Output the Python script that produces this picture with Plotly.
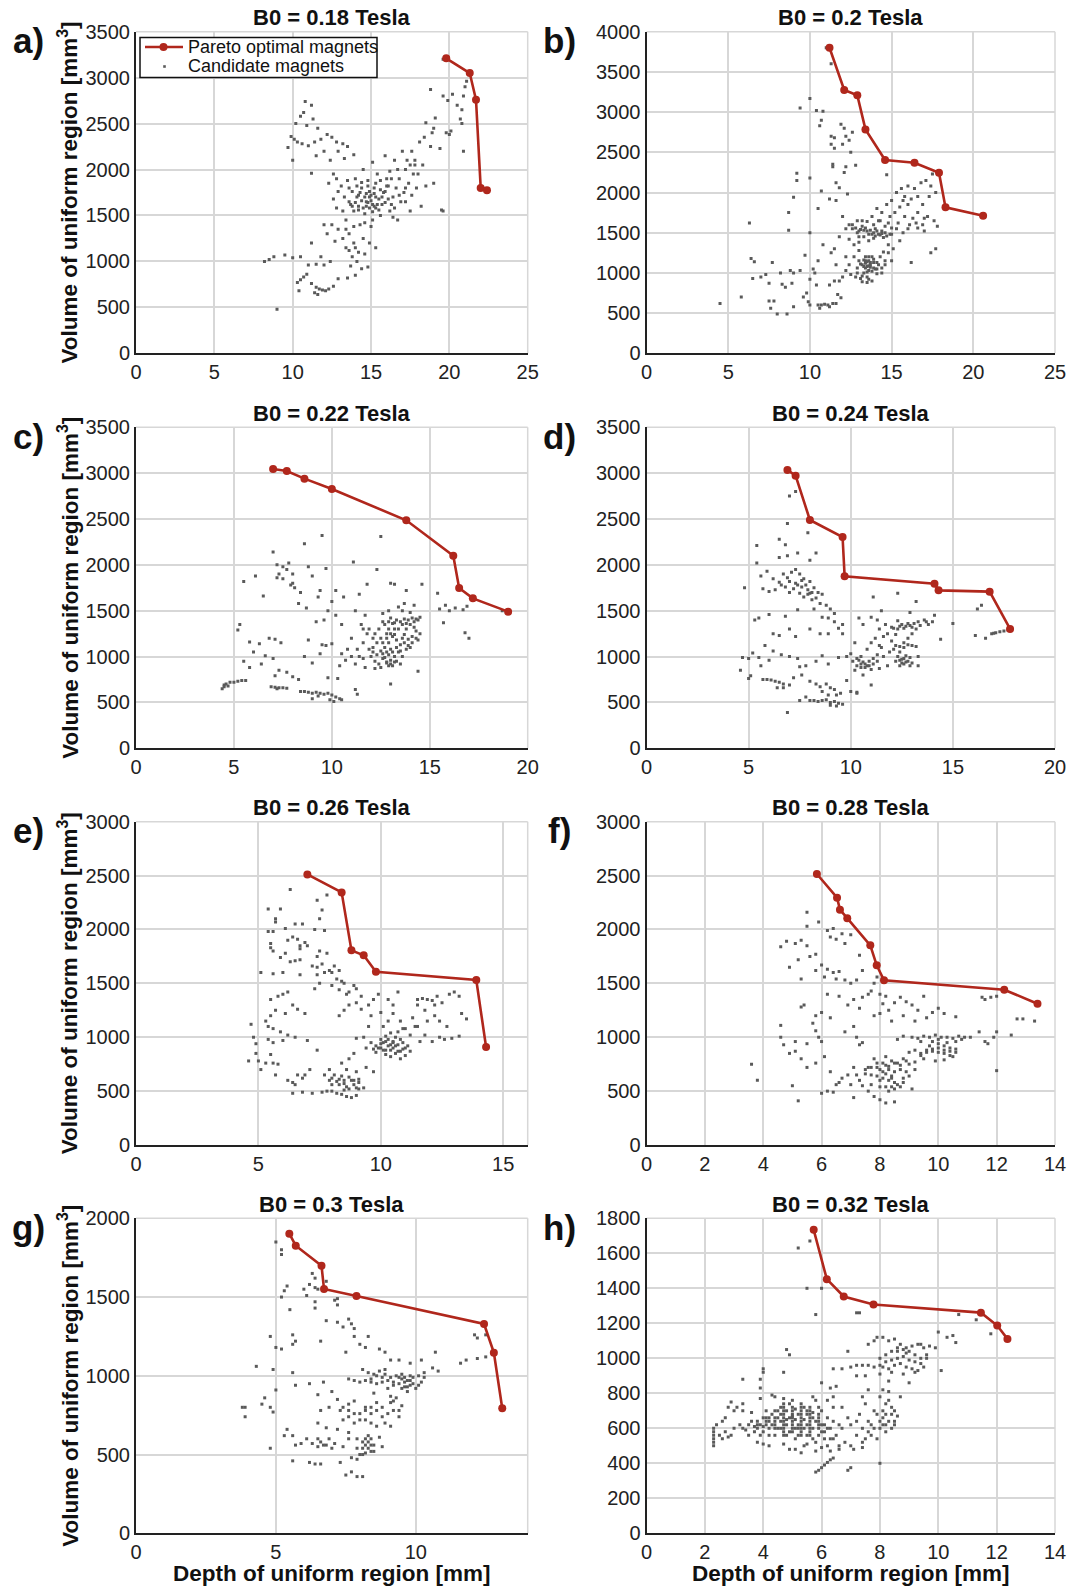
import plotly.graph_objects as go

# ---------------- data ----------------
titles = ["B0 = 0.18 Tesla", "B0 = 0.2 Tesla", "B0 = 0.22 Tesla", "B0 = 0.24 Tesla",
          "B0 = 0.26 Tesla", "B0 = 0.28 Tesla", "B0 = 0.3 Tesla", "B0 = 0.32 Tesla"]
panel_labels = ["a)", "b)", "c)", "d)", "e)", "f)", "g)", "h)"]
legend_names = ["Pareto optimal magnets", "Candidate magnets"]
x_title = "Depth of uniform region [mm]"
y_title = "Volume of uniform region [mm<sup>3</sup>]"
x_ranges = [[0, 25], [0, 25], [0, 20], [0, 20], [0, 16], [0, 14], [0, 14], [0, 14]]
x_dticks = [5, 5, 5, 5, 5, 2, 5, 2]
y_ranges = [[0, 3500], [0, 4000], [0, 3500], [0, 3500], [0, 3000], [0, 3000], [0, 2000], [0, 1800]]
y_dticks = [500, 500, 500, 500, 500, 500, 500, 200]

pareto_a_x = [19.8, 21.3, 21.7, 22.0, 22.4]
pareto_a_y = [3210, 3050, 2760, 1800, 1775]
pareto_b_x = [11.2, 12.1, 12.9, 13.4, 14.6, 16.4, 17.9, 18.3, 20.6]
pareto_b_y = [3800, 3275, 3210, 2785, 2405, 2370, 2245, 1815, 1710]
pareto_c_x = [7.0, 7.7, 8.6, 10.0, 13.8, 16.2, 16.5, 17.2, 19.0]
pareto_c_y = [3045, 3023, 2940, 2827, 2486, 2100, 1748, 1635, 1490]
pareto_d_x = [6.9, 7.3, 8.0, 9.6, 9.7, 14.1, 14.3, 16.8, 17.8]
pareto_d_y = [3034, 2973, 2489, 2304, 1875, 1795, 1722, 1708, 1301]
pareto_e_x = [7.0, 8.4, 8.8, 9.3, 9.8, 13.9, 14.3]
pareto_e_y = [2511, 2344, 1806, 1760, 1608, 1531, 909]
pareto_f_x = [5.84, 6.53, 6.63, 6.88, 7.67, 7.89, 8.14, 12.26, 13.4]
pareto_f_y = [2515, 2295, 2184, 2103, 1853, 1667, 1528, 1441, 1311]
pareto_g_x = [5.48, 5.71, 6.63, 6.72, 7.88, 12.44, 12.79, 13.09]
pareto_g_y = [1902, 1826, 1699, 1551, 1507, 1329, 1147, 794]
pareto_h_x = [5.73, 6.18, 6.76, 7.78, 11.46, 12.02, 12.37]
pareto_h_y = [1734, 1452, 1353, 1307, 1261, 1187, 1111]

cand_a = [(10.8,2740),(11.2,2700),(10.7,2620),(10.5,2580),(11.3,2550),(10.9,2480),(11.6,2450),(10.2,2500),(9.9,2360),(10.1,2330),(10.3,2300),(9.7,2240),(10.6,2280),(11.0,2260),(11.4,2300),(11.8,2330),(12.2,2380),(12.5,2350),(12.8,2300),(13.2,2280),(12.0,2200),(11.5,2150),(12.4,2100),(13.5,2250),(13.9,2160),(12.9,2200),(13.3,2120),(10.0,2100),(11.2,1960),(12.6,1950),
(12.3,1850),(12.8,1900),(13.1,1820),(13.5,1880),(13.8,1760),(14.1,1700),(14.4,1800),(14.7,1650),(15.0,1720),(15.2,1600),(14.9,1580),(15.5,1680),(15.8,1750),(16.1,1820),(16.4,1700),(16.8,1900),(17.2,2000),(17.5,2050),(17.8,2100),(17.4,1850),(16.9,1650),(16.2,1550),(15.6,1500),(15.1,1450),(14.6,1520),(14.2,1600),(13.7,1620),(13.3,1700),(12.9,1760),(12.6,1680),(14.0,1900),(14.5,2000),(15.1,2080),(15.4,1950),(15.9,2150),(16.5,2100),(17.0,2200),(17.6,2200),(18.1,2300),(18.4,2350),(17.9,1800),(18.5,1820),(19.0,1850),(18.2,1600),(17.5,1550),(16.7,1450),(15.3,1850),(14.8,1880),(14.3,1750),(15.7,1620),(16.0,1900),(16.6,1800),(13.9,1550),(13.4,1450),(12.9,1350),(12.5,1400),
(14.6,1700),(14.8,1640),(15.0,1660),(15.2,1740),(15.4,1620),(14.4,1660),(14.2,1720),(15.6,1780),(15.9,1640),(14.9,1760),(15.1,1540),(14.7,1600),(15.3,1700),(13.6,1800),(16.3,1900),(17.1,1750),(17.7,1950),(16.2,1980),
(13.6,1650),(13.8,1600),(14.0,1640),(14.2,1560),(14.5,1580),(14.7,1740),(14.9,1700),(15.1,1620),(15.3,1580),(15.5,1560),(15.7,1700),(15.9,1760),(16.1,1680),(16.3,1620),(16.5,1580),(14.1,1820),(14.4,1860),(14.8,1820),(15.2,1800),(15.6,1880),(16.0,1820),(16.8,1720),(17.2,1650),(17.6,1720),(18.0,1950),(18.3,2050),(17.3,2100),(16.7,2000),(13.2,1550),(12.8,1580),(14.6,1420),(15.0,1380),(13.9,1380),(13.4,1150),(14.6,1080),(14.0,850),(13.6,1120),(16.4,1480),(17.8,2050),(17.2,1800),
(13.6,1300),(13.2,1250),(12.7,1220),(12.2,1300),(13.9,1200),(14.2,1100),(14.5,1250),(14.9,1200),(15.3,1150),(13.8,1050),(14.1,1000),(13.7,950),(14.4,920),(14.8,940),(13.5,820),(12.4,1000),(11.8,1050),(11.2,1200),(12.0,1400),(10.5,1050),(11.0,960),(11.5,970),(12.0,960),(14.0,1150),(13.4,1350),(14.3,1400),
(10.3,770),(10.5,800),(10.7,830),(10.9,860),(11.2,760),(11.5,720),(11.7,700),(11.9,690),(12.1,680),(11.4,660),(11.6,640),(12.3,700),(12.6,730),(12.9,810),(8.2,1000),(8.5,1020),(8.8,1050),(9.5,1070),(10.0,1040),(9.0,480),(10.4,680),
(19.6,2800),(19.9,2750),(20.2,2820),(20.5,2700),(20.8,2650),(20.9,2800),(21.0,2900),(21.1,2960),(19.8,2400),(20.1,2420),(20.7,2550),(20.8,2500),(19.0,2450),(18.8,2870),(19.1,2560),(18.5,2510),(18.9,2400),(19.4,2230),(20.9,2200),(18.8,2250),(19.5,1560),(19.6,1550),(20.0,2380),(19.6,3200)]

cand_b = [(11.0,3800),(11.3,3600),(10.0,3170),(9.4,3050),(10.4,3020),(10.8,3010),(10.6,2830),(10.7,2900),(11.3,2700),(11.5,2680),(11.9,2850),(12.1,2800),(12.2,2700),(12.6,2750),(12.4,2650),(11.3,2600),(11.5,2550),(12.0,2600),(12.5,2500),(11.4,2350),(11.4,2320),(12.2,2320),(12.8,2340),(12.1,2250),(14.7,2220),(9.2,2240),(9.2,2150),(10.0,2180),(11.6,2120),(11.8,2060),(10.7,2020),(11.2,1920),(11.6,1900),(12.3,1980),(9.0,1940),(10.5,1800),
(12.0,1700),(12.4,1600),(12.6,1550),(12.9,1500),(13.2,1580),(13.5,1640),(13.8,1700),(14.1,1800),(14.4,1750),(14.7,1850),(15.0,1900),(15.3,2000),(15.6,2050),(16.0,2080),(16.4,2050),(16.8,2120),(17.1,2150),(17.5,2230),(17.7,2000),(17.3,1950),(16.9,1850),(16.6,1750),(16.3,1680),(16.1,1600),(16.9,1600),(17.2,1700),(17.6,1650),(17.8,1580),(15.8,1700),(15.4,1620),(15.0,1560),(14.6,1500),(14.2,1480),(13.9,1430),(13.6,1400),(13.3,1450),(13.0,1380),(12.7,1350),(12.4,1420),(14.0,1550),(14.4,1520),(14.8,1620),(15.2,1750),(13.7,1530),(13.1,1540),(12.2,1550),(11.8,1450),(17.7,1300),(17.4,1250),(16.2,1130),
(13.8,1480),(14.0,1460),(14.3,1470),(14.5,1440),(13.5,1520),(14.9,1480),(15.5,1820),(16.2,1920),(16.6,1560),(17.0,1520),(15.7,1900),(14.2,1650),(12.9,1650),(13.4,1560),
(12.8,1560),(13.0,1520),(13.3,1530),(13.6,1480),(13.9,1500),(14.1,1520),(14.4,1490),(14.7,1460),(15.0,1480),(12.6,1600),(13.2,1650),(13.9,1600),(14.6,1580),(15.3,1550),(15.7,1500),(16.0,1550),(16.5,1620),(17.0,1680),(15.5,1400),(15.1,1300),(14.8,1250),(13.1,1110),(13.3,1080),(13.7,1130),(13.9,1170),(14.1,1050),(13.4,1150),(13.6,1200),(12.9,1000),(13.2,960),(14.4,1000),(14.6,1150),(16.0,1850),(16.6,1950),(17.4,2080),(15.8,1950),(14.9,1700),(14.3,1650),(13.0,1450),(12.2,1200),
(13.0,1150),(13.2,1100),(13.4,1120),(13.5,1080),(13.6,1150),(13.7,1100),(13.8,1200),(13.9,1130),(14.0,1050),(14.2,1100),(13.3,1000),(13.5,950),(13.6,920),(13.8,900),(13.1,930),(12.8,950),(12.5,980),(12.2,1030),(12.0,950),(11.8,900),(12.4,1100),(12.7,1200),(13.0,1280),(14.3,1200),(14.5,1260),(14.8,1350),(15.0,1150),(14.6,1100),(14.1,990),(13.4,1200),(13.6,1030),(12.9,1060),(11.5,900),(11.2,850),(11.6,1100),(11.3,1250),(10.8,1350),(10.5,1150),(10.2,1050),(10.0,920),
(13.4,1060),(13.5,1140),(13.6,1090),(13.7,1070),(13.9,1060),(14.1,1130),(13.3,1160),(13.5,1010),(13.5,880),(13.2,890),(13.8,1020),(14.4,1060),
(4.5,620),(5.8,700),(6.3,1620),(6.4,1180),(6.6,1140),(6.5,930),(7.0,950),(7.3,980),(7.5,870),(7.7,1130),(7.5,650),(7.8,650),(7.6,560),(8.0,490),(8.2,1000),(8.3,860),(8.5,820),(8.6,490),(8.8,1030),(9.0,1000),(9.0,580),(8.7,1750),(8.7,1530),(8.9,870),(9.4,1030),(9.6,700),(9.9,640),(9.8,750),(9.7,1220),(10.0,1500),(10.3,1000),(10.4,850),(10.5,600),(10.7,600),(10.9,610),(11.1,600),(11.2,580),(11.4,620),(10.6,560),(10.0,600),(11.6,620),(11.5,1300),(11.9,690),(11.7,730)]

cand_c = [(7.0,2140),(7.2,2000),(7.5,1980),(7.8,2020),(7.3,1900),(7.7,1950),(8.0,1900),(7.5,1850),(7.9,1780),(8.1,1750),(8.0,1800),(8.4,1700),(7.2,1860),(8.3,1580),(8.6,2230),(9.5,2320),(8.8,1980),(9.0,1880),(9.4,1720),(9.7,1960),(10.2,1720),(10.6,1650),(11.1,2030),(12.3,1950),(12.5,2310),(11.8,1790),(11.4,1680),(10.0,1600),(9.8,1500),(9.3,1650),(8.7,1530),(9.2,1380),(9.6,1400),(10.2,1450),(10.5,1350),(11.2,1500),(11.5,1350),(11.7,1450),(11.9,1300),(12.1,1200),(6.5,1660),(5.5,1820),(6.1,1880),(5.3,1350),(5.2,1290),(5.8,1160),(6.3,1140),(6.8,1200),(7.1,1190),(7.4,1150),(6.0,1050),(5.5,950),(5.8,880),(6.4,920),(7.0,980),(7.3,850),(7.7,830),(8.0,780),(8.3,750),(7.1,790),(6.6,1010),(8.6,1000),(9.0,930),(9.4,1030),(9.7,1120),(10.0,1140),(10.5,1030),(10.7,960),(10.3,760),(9.8,770),(8.8,1180),(9.5,1130),(10.4,900),(11.0,1200),(11.3,1080),(11.6,980),(11.9,1080),(11.2,640),(11.3,590),(13.0,700),(14.4,840),
(12.0,1000),(12.2,950),(12.4,920),(12.6,980),(12.8,940),(13.0,960),(13.2,1000),(13.4,1050),(13.6,1000),(13.8,1080),(12.1,1100),(12.3,1150),(12.5,1200),(12.7,1100),(12.9,1150),(13.1,1220),(13.3,1180),(13.5,1130),(13.7,1240),(13.9,1190),(14.1,1150),(14.3,1200),(14.5,1250),(12.4,1300),(12.7,1350),(12.9,1380),(13.1,1360),(13.3,1400),(13.5,1380),(13.7,1410),(13.9,1400),(14.1,1420),(14.3,1410),(14.5,1430),(12.6,1470),(12.9,1500),(13.4,1540),(14.0,1480),(12.2,1250),(11.8,1250),(11.6,1150),(11.4,1000),(11.2,920),(11.7,880),(12.2,870),(12.5,880),(13.1,900),(13.5,920),(14.0,1100),(14.4,1180),(13.8,1300),(13.6,1500),(13.7,1580),(14.2,1560),(14.6,1790),(13.2,1790),(13.0,1800),(13.8,1720),
(12.8,1050),(13.0,1080),(12.6,1030),(12.9,900),(13.3,950),(13.6,1200),(12.8,1250),(13.2,1300),(12.6,1380),(13.0,1420),(14.2,1320),
(12.1,1050),(12.3,1020),(12.5,1060),(12.7,990),(12.9,1020),(13.1,1050),(13.3,1100),(13.5,1060),(13.7,1150),(13.9,1120),(14.1,1220),(14.3,1280),(12.8,930),(13.0,920),(13.2,940),(12.6,1150),(12.8,1200),(13.0,1250),(13.2,1240),(13.4,1300),(13.6,1350),(13.8,1360),(14.0,1350),(14.2,1380),(14.4,1400),(13.2,1370),(12.9,1300),(11.6,1300),(11.0,1000),(10.8,1080),
(4.4,650),(4.5,690),(4.6,700),(4.7,680),(4.8,720),(5.0,720),(5.2,730),(5.4,740),(5.6,740),(4.5,670),(6.9,670),(7.1,665),(7.3,660),(7.5,660),(7.7,655),(7.2,650),(8.4,620),(8.6,620),(8.8,610),(9.0,600),(9.2,610),(9.4,600),(9.6,590),(9.8,600),(10.0,580),(10.2,560),(9.9,530),(10.1,510),(10.4,540),(10.5,530),(9.0,540),(9.3,570),
(15.5,1520),(15.8,1560),(16.0,1500),(16.3,1530),(16.7,1510),(16.9,1550),(15.7,1370),(16.8,1260),(17.0,1200),(15.4,1690),(18.7,1500)]

cand_d = [(7.0,2750),(7.3,2800),(6.9,2450),(7.9,2350),(6.5,2280),(6.8,2220),(5.4,2210),(5.4,2020),(6.5,2080),(6.9,2100),(7.4,2130),(8.0,2050),(8.3,2130),(5.6,1880),(5.9,1930),(6.2,1850),(6.5,1810),(5.7,1740),(6.0,1710),(6.3,1730),(6.6,1780),(6.9,1860),(7.1,1920),(7.3,1950),(7.5,1900),(7.7,1850),(7.8,1780),(8.0,1820),(8.2,1750),(8.4,1700),(8.6,1680),(7.2,1740),(7.5,1690),(7.7,1650),(8.0,1690),(8.3,1640),(8.5,1580),(8.8,1560),(9.0,1520),(8.6,1430),(8.9,1420),(9.2,1470),(9.2,1380),(9.6,1350),(7.4,1510),(8.2,1520),(6.8,1440),(5.3,1400),(5.5,1420),(6.0,1460),(4.8,1750),(6.2,1250),(6.5,1230),(7.0,1300),(7.3,1220),(8.0,1300),(8.5,1250),(8.9,1250),(9.4,1310),(9.6,1250),(5.8,1120),(6.2,1060),(6.6,1020),(7.0,1000),(7.4,980),(5.0,980),(4.7,990),(5.2,1040),(5.5,990),(4.6,850),(5.0,760),(5.1,790),(5.6,900),(6.0,960),(7.5,890),(7.8,900),(8.3,950),(8.6,1010),(8.9,920),(9.4,990),(7.2,770),(7.6,800),(8.0,730),
(7.6,1760),(7.9,1730),(8.1,1700),(7.3,1800),(6.8,1760),(7.0,1700),(7.4,1780),(7.6,1830),(7.9,1680),(8.1,1620),(6.7,1900),(7.0,1820),
(5.7,750),(5.9,750),(6.1,745),(6.3,730),(6.5,720),(6.7,700),(6.4,660),(6.7,660),(7.0,690),
(7.5,520),(7.8,560),(8.0,520),(8.2,520),(8.4,510),(8.6,520),(8.8,530),(9.0,500),(9.2,510),(9.4,490),(9.6,480),(8.3,700),(8.5,670),(8.8,700),(9.0,660),(9.2,640),(9.3,580),(8.9,580),(9.5,600),(8.6,620),(9.0,470),(9.3,460),(9.8,740),(10.0,620),(10.3,610),(6.9,390),
(9.8,1000),(10.1,950),(10.3,900),(10.5,880),(10.7,920),(10.9,950),(11.1,980),(11.3,1020),(10.2,850),(10.6,800),(11.0,860),(11.4,870),(11.8,900),(12.2,950),(12.4,960),(12.6,980),(12.8,950),(13.0,930),(12.5,930),(12.3,1000),(12.7,1010),(10.8,1080),(11.0,1150),(11.2,1200),(11.4,1120),(11.6,1220),(11.8,1250),(12.0,1170),(12.2,1120),(12.4,1110),(12.6,1150),(12.8,1130),(13.0,1120),(13.2,1110),(11.4,1300),(11.7,1350),(12.0,1320),(12.3,1300),(12.6,1310),(12.9,1340),(13.1,1360),(13.3,1380),(13.6,1400),(13.8,1350),(14.0,1380),(14.1,1450),(11.3,1400),(11.5,1500),(11.0,1430),(10.4,1420),(10.6,1350),(10.2,1150),(10.0,1030),(12.3,1390),(12.9,1480),(12.3,1690),(11.1,1650),(13.2,1600),(13.3,1000),(13.3,900),(10.3,600),(11.0,690),(14.4,1190),(15.0,1360),
(10.4,960),(10.6,940),(10.8,900),(10.5,920),(12.5,970),(12.7,940),(12.9,990),(12.1,1310),(12.4,1330),(12.8,1360),
(10.3,980),(10.5,1000),(10.7,880),(10.9,900),(11.1,920),(11.3,950),(11.6,1000),(11.9,1050),(12.1,1080),(12.4,1050),(12.6,1100),(12.8,1200),(13.0,1250),(13.2,1300),(12.5,1350),(12.7,1330),(13.0,1320),(13.4,1340),(13.7,1380),(12.2,1240),(11.5,1100),(12.9,900),(12.6,920),(12.4,900),
(16.2,1520),(16.4,1560),(16.1,1230),(16.6,1200),(16.9,1250),(17.1,1260),(17.3,1270),(17.5,1280),(17.7,1290),(17.0,1255)]

cand_e = [(6.3,2370),(7.4,2270),(7.8,2320),(8.4,2330),(5.4,2190),(5.9,2190),(7.6,2180),(5.7,2100),(5.7,2070),(7.5,2100),(6.5,2050),(6.8,2050),(6.1,2010),(7.3,2000),(7.7,1990),(5.4,1980),(5.6,1980),(6.4,1930),(6.6,1910),(6.9,1880),(6.7,1850),(7.0,1850),(5.5,1870),(5.5,1830),(5.6,1800),(6.1,1780),(7.5,1800),(7.8,1780),(7.4,1750),(6.5,1710),(6.7,1720),(6.3,1700),(7.2,1660),(7.4,1650),(7.6,1680),(7.9,1620),(8.1,1660),(8.0,1600),(8.3,1620),(7.7,1600),(7.4,1580),(5.1,1600),(5.6,1590),(8.2,1540),(8.4,1520),(8.5,1500),(8.3,1440),(8.7,1420),(8.9,1480),(9.0,1450),(9.2,1380),(8.0,1480),(7.5,1500),(7.3,1450),(6.2,1420),(6.0,1400),(5.8,1380),(5.5,1350),(6.4,1300),(6.6,1260),(6.9,1220),(6.1,1220),(5.7,1250),(5.5,1200),(5.3,1150),(5.4,1100),(5.6,1080),(5.9,1050),(6.2,1020),(6.5,1000),(5.4,980),(5.6,950),(6.0,970),(4.7,1120),(4.8,1000),(4.9,940),(4.6,780),(4.9,850),(5.0,780),(5.5,840),(5.3,760),(5.6,760),(5.8,750),(5.1,700),(5.7,650),(6.2,600),(6.4,580),(6.5,560),(6.6,650),(6.8,620),(6.9,650),(7.1,700),(6.4,480),(6.8,490),(7.2,480),(7.6,490),(7.8,500),(8.0,500),(8.2,480),(8.4,470),(8.6,450),(8.8,440),(9.0,460),(7.9,600),(8.1,650),(8.3,560),(8.5,600),(8.7,630),(8.9,560),(9.1,610),(9.3,530),(7.9,700),(8.4,760),(8.6,700),(9.0,680),(9.4,720),(9.7,680),(8.9,850),(8.7,800),(7.4,880),(7.0,970),(6.0,1600),(5.9,1740),(6.7,1820),
(8.3,1200),(8.5,1250),(8.7,1300),(9.0,1320),(9.2,1260),(9.5,1300),(9.7,1350),(9.9,1400),(10.0,1230),(9.5,1100),(9.3,1000),(9.0,990),(9.4,900),(9.7,890),(9.9,900),(10.1,880),(10.3,920),(10.5,900),(10.7,870),(10.9,890),(11.1,920),(10.2,840),(10.4,820),(10.6,850),(10.8,800),(11.0,830),(9.6,950),(10.0,980),(10.2,1010),(10.4,1040),(10.6,1000),(10.8,980),(10.1,1100),(10.3,1150),(10.5,1220),(10.8,1150),(11.0,1080),(11.3,1180),(11.5,1300),(11.7,1360),(11.9,1350),(12.1,1340),(12.3,1380),(12.5,1320),(11.8,1250),(12.4,1150),(12.8,1400),(13.0,1420),(13.2,1380),(13.3,1220),(13.5,1170),(12.7,1100),(12.4,1000),(12.1,960),(11.8,1020),(11.6,960),(12.9,990),(13.2,1010),(12.6,980),(12.2,1200),(10.3,1350),(10.7,1420),(11.4,1100),
(8.6,540),(8.8,600),(8.4,640),(8.2,590),(8.0,560),(8.5,510),(9.1,520),(10.0,940),(10.2,960),(10.5,950),(10.7,930),(10.4,880),(10.9,950),(11.2,870),(9.8,920),
(9.8,860),(10.0,900),(10.2,880),(10.4,930),(10.6,920),(10.8,870),(11.0,900),(10.1,950),(10.3,980),(10.5,960),(10.7,1050),(10.9,1080),(11.2,1020),(11.5,1100),(11.9,1150),(12.2,1300),(11.5,1350),(8.5,570),(8.7,520),(8.9,600),(9.1,580),(8.3,610),(8.0,620),(7.7,650),(9.0,530),(6.2,1900),(6.7,1580),(8.6,1400),(9.6,1200),(10.5,1300)]

cand_f = [(5.5,2160),(5.5,2030),(5.9,2070),(6.2,1990),(6.3,1930),(6.4,2010),(6.5,1910),(6.7,1960),(6.8,1870),(7.0,1950),(4.6,1840),(4.8,1890),(5.1,1870),(5.3,1900),(5.5,1850),(5.8,1770),(5.6,1750),(5.2,1720),(4.9,1650),(5.8,1620),(6.0,1670),(6.2,1630),(6.4,1600),(6.6,1610),(6.5,1540),(6.8,1530),(7.0,1500),(7.2,1530),(7.4,1620),(7.3,1760),(5.3,1540),(6.1,1560),(6.2,1400),(6.6,1380),(6.9,1300),(7.1,1350),(7.4,1370),(7.6,1400),(7.8,1500),(7.9,1560),(7.7,1430),(8.0,1400),(8.2,1380),(8.1,1310),(8.3,1250),(8.5,1320),(8.7,1370),(8.9,1330),(9.1,1300),(9.3,1250),(9.5,1380),(7.3,1270),(7.8,1200),(8.0,1220),(8.4,1150),(8.8,1200),(9.2,1150),(9.6,1180),(9.8,1230),(10.0,1270),(10.2,1220),(10.6,1190),(5.3,1280),(5.4,1300),(5.8,1200),(6.0,1230),(6.3,1180),(4.6,1110),(4.6,1000),(5.1,960),(5.7,1130),(5.8,1060),(5.9,1000),(6.0,960),(6.8,1050),(7.1,1100),(7.2,1000),(7.3,930),(7.4,950),(4.7,930),(4.9,850),(5.1,870),(5.3,800),(5.5,940),(5.8,760),(3.6,750),(3.8,600),(5.0,550),(5.2,410),(5.5,720),(6.1,820),(6.3,680),(6.5,560),(6.2,500),(6.0,480),(6.4,490),(6.6,580),(6.7,620),(6.9,650),(7.1,720),(7.0,560),(7.3,600),(7.1,440),(7.5,660),(7.6,720),(7.8,800),(7.7,560),(7.9,640),(8.0,700),(8.1,760),(8.2,820),(8.3,700),(8.4,640),(8.5,580),(8.6,760),(8.7,700),(8.8,620),(8.9,680),(9.0,750),(9.1,520),(8.3,500),(8.5,520),(8.7,540),(7.8,450),(8.0,420),(8.2,390),(8.5,400),(8.0,540),(7.6,500),(7.4,550),
(8.2,740),(8.4,780),(8.3,600),(8.1,620),(7.9,720),(8.5,680),(8.4,540),(7.7,650),
(8.1,680),(8.3,730),(8.5,760),(8.7,740),(8.9,780),(8.2,660),(8.4,620),(8.6,560),(8.8,580),(7.9,760),(7.7,720),(7.5,700),(8.0,600),(8.2,540),(9.0,640),(9.2,700),(9.4,830),(9.6,860),(9.8,890),(10.0,900),(10.2,880),(10.4,870),(10.6,860),(9.7,920),(10.0,980),(10.3,950),(10.6,960),(10.8,980),(9.4,960),(7.2,650),
(8.8,800),(9.0,860),(9.2,880),(9.4,850),(9.6,880),(9.8,870),(10.0,860),(10.2,850),(10.4,830),(10.6,890),(9.1,1000),(9.3,990),(9.5,1010),(9.7,1000),(9.9,1020),(10.1,1000),(10.3,1000),(10.5,990),(10.7,1010),(10.9,1000),(11.1,1000),(9.8,960),(10.0,940),(10.2,920),(10.4,900),(9.5,800),(9.9,780),(10.2,790),(10.5,820),(9.2,770),(8.6,980),(8.8,1010),
(11.4,1050),(11.6,960),(11.9,1000),(12.0,1050),(12.0,690),(12.5,1020),(11.6,1350),(11.8,1370),(12.0,1380),(11.5,1370),(12.7,1170),(12.9,1170),(13.3,1150),(11.7,940)]

cand_g = [(5.0,1850),(5.2,1800),(5.2,1770),(6.3,1650),(6.4,1620),(6.2,1580),(6.4,1560),(6.5,1550),(6.7,1560),(6.8,1600),(5.3,1540),(5.4,1570),(5.2,1500),(6.0,1550),(6.1,1510),(6.4,1470),(6.4,1430),(7.2,1490),(7.2,1450),(7.1,1480),(5.5,1420),(6.8,1350),(7.2,1340),(7.6,1360),(7.8,1300),(7.4,1310),(7.7,1330),(7.8,1250),(8.3,1250),(4.8,1250),(5.6,1260),(5.7,1220),(5.6,1200),(6.6,1220),(5.0,1180),(5.2,1170),(7.5,1150),(8.0,1200),(8.2,1180),(8.9,1150),(8.7,1170),(9.1,1100),(9.4,1100),(9.8,1080),(10.2,1100),(10.6,1050),(10.8,1030),(10.7,1150),(4.3,1060),(4.9,1040),(5.6,1020),(5.0,910),(5.7,940),(6.2,950),(6.7,960),(6.5,880),(7.0,900),(7.2,850),(7.8,840),(4.6,860),(4.5,820),(4.8,800),(4.9,770),(3.8,800),(3.9,800),(3.9,740),
(7.4,800),(7.6,780),(7.8,760),(8.0,760),(8.2,780),(8.4,800),(8.6,830),(8.8,800),(9.0,760),(9.2,780),(9.4,740),(7.4,720),(7.6,740),(8.2,720),(8.4,700),(8.6,680),(8.9,700),(9.1,680),(9.5,810),(9.1,830),(6.9,800),(6.6,780),(6.5,700),(6.8,670),(7.2,660),(7.6,640),
(8.2,800),(8.4,760),(8.6,780),(8.8,740),(8.0,720),(7.8,700),(9.2,840),(9.4,780),(7.6,820),(7.3,780),
(5.4,660),(5.6,620),(5.3,620),(5.7,560),(5.9,570),(6.1,600),(6.3,570),(6.5,550),(6.7,560),(6.9,600),(7.1,570),(7.4,550),(7.6,600),(7.9,600),(8.1,580),(8.2,560),(8.3,540),(8.4,600),(8.5,520),(7.9,540),(7.7,480),(7.9,470),(8.1,500),(6.2,450),(6.4,440),(6.6,440),(5.6,460),(7.5,370),(7.7,390),(7.9,360),(8.1,360),(7.3,450),(4.8,540),(8.8,550),(8.7,610),(8.3,620),(8.2,510),(8.4,560),
(8.2,600),(8.3,580),(8.5,560),(8.4,520),(8.0,500),(8.1,540),(6.5,600),(6.6,580),(6.8,560),(7.0,540),
(8.0,960),(8.2,970),(8.4,980),(8.6,1000),(8.8,990),(9.0,970),(9.2,960),(9.4,950),(9.6,960),(9.8,940),(10.0,920),(10.2,960),(8.3,1020),(8.5,1010),(8.7,1030),(8.9,1010),(9.1,990),(9.3,1000),(9.5,980),(9.7,970),(9.9,990),(10.1,1000),(10.3,1020),(8.1,1040),(8.6,950),(9.0,920),(9.5,920),(9.7,900),(9.1,870),(9.3,860),(8.5,890),(7.6,980),(7.8,970),(9.6,990),(9.8,1000),(9.7,930),(9.9,950),
(8.4,960),(8.8,960),(9.2,940),(9.6,930),(9.4,990),(8.9,1040),(9.5,1010),(9.8,970),(10.1,940),(10.3,990),
(11.6,1080),(11.8,1100),(12.2,1110),(12.1,1260),(12.2,1240),(12.5,1260),(12.5,1120)]

cand_h = [(5.6,1670),(5.2,1630),(5.5,1400),(6.0,1400),(5.8,1250),(7.2,1260),(7.3,1260),(6.9,1040),(4.8,1050),(4.9,1020),(4.7,920),(4.0,940),(4.0,920),(3.3,880),(3.9,880),(3.9,830),(10.0,1150),(10.3,1120),(10.5,1130),(10.6,1090),(10.1,930),(11.8,1140),(11.3,1220),(10.7,1250),
(7.6,1080),(7.8,1100),(7.9,1120),(8.1,1120),(8.3,1100),(8.5,1110),(8.7,1080),(8.9,1060),(9.1,1070),(9.3,1080),(9.5,1060),(9.7,1070),(9.9,1060),(8.0,1000),(8.2,980),(8.4,990),(8.6,1000),(8.8,1010),(9.0,990),(9.2,980),(9.4,970),(9.6,1000),(8.1,950),(8.3,940),(8.5,960),(8.7,970),(8.9,950),(9.1,940),(9.3,930),(9.5,950),(8.0,910),(8.4,920),(8.8,910),(9.2,920),(8.6,1040),(8.9,1030),(7.0,950),(7.2,960),(7.4,960),(7.6,960),(7.8,950),(6.7,940),(6.4,940),(7.5,900),(8.3,870),(9.0,860),(8.7,780),(9.4,1080),(9.6,1020),
(8.0,960),(8.2,1020),(8.4,1040),(8.6,1060),(8.8,1050),(9.0,1040),(9.2,1020),(9.4,1000),
(2.3,500),(2.3,520),(2.3,540),(2.3,560),(2.3,580),(2.3,600),(2.4,620),(2.5,560),(2.6,540),(2.7,580),(2.6,640),(2.7,660),(2.8,550),(2.9,560),(2.9,750),(3.0,600),(3.1,720),(3.2,620),(3.3,600),(3.3,700),(3.4,590),(3.5,560),(3.5,620),(3.6,640),(3.7,610),(3.6,690),(3.8,600),(3.9,620),(4.0,580),(4.0,660),(4.1,700),(4.2,640),(4.2,600),(4.3,680),(4.4,620),(4.4,560),(4.5,700),(4.6,640),(4.6,600),(4.7,720),(4.7,680),(4.8,650),(4.8,620),(4.9,740),(4.9,580),(5.0,700),(5.0,640),(5.1,600),(5.2,680),(5.2,560),(5.3,720),(5.3,640),(5.4,600),(5.4,500),(5.5,680),(5.5,620),(5.6,720),(5.6,560),(5.7,660),(5.7,600),(5.8,760),(5.8,520),(5.9,640),(6.0,580),(6.0,700),(6.1,540),(6.1,620),(6.2,500),(6.2,660),(6.3,600),(6.4,540),(6.4,720),(6.5,560),(6.6,620),(6.6,500),(6.7,600),(6.8,520),(6.9,660),(7.0,620),(7.0,500),(7.2,560),(7.2,640),(7.3,680),(7.4,600),(7.4,520),(7.5,740),(7.6,640),(7.6,580),(7.7,620),(7.8,700),(7.8,600),(7.9,540),(8.0,780),(8.0,640),(8.0,600),(8.1,820),(8.1,700),(8.2,740),(8.2,580),(8.3,640),(8.4,680),(8.4,600),(8.5,620),(8.5,700),
(4.5,660),(4.6,720),(4.8,700),(5.0,670),(5.1,650),(5.2,620),(5.3,680),(5.4,650),(5.5,700),(5.6,640),(5.7,690),(4.7,600),(4.9,660),(5.1,710),(4.4,640),(4.2,660),(4.0,610),
(4.1,640),(4.3,620),(4.5,600),(4.6,680),(4.8,560),(5.0,620),(5.2,600),(5.4,720),(5.6,680),(5.8,640),(6.0,620),(6.2,600),(6.4,640),(5.1,540),(5.3,580),(5.5,560),(5.7,540),(5.9,560),(6.1,580),(6.3,540),(4.2,560),(3.7,580),(3.9,560),
(4.7,560),(4.7,580),(4.7,620),(4.7,640),(4.7,660),(4.7,700),(4.7,740),(5.0,580),(5.0,600),(5.0,660),(5.0,680),(5.0,720),(5.3,560),(5.3,600),(5.3,620),(5.3,660),(5.3,700),(5.3,740),(5.6,580),(5.6,600),(5.6,620),(5.6,660),(5.6,700),(5.9,600),(5.9,620),(5.9,660),(5.9,680),(5.9,720),(4.4,600),(4.4,660),(4.4,700),(4.1,620),(4.1,660),(3.8,620),(3.8,640),
(8.1,620),(8.2,620),(8.4,720),(8.3,760),(7.9,680),(7.7,560),(8.1,660),(8.5,640),(8.2,680),
(6.2,760),(6.4,780),(6.7,720),(7.4,780),(7.6,820),(8.3,810),(6.0,860),(6.3,830),(5.7,780),(4.4,780),(4.3,790),(3.9,770),(3.3,740),(2.8,720),(5.0,760),(4.7,770),(3.0,700),(3.8,520),(4.0,510),(4.2,500),(4.7,510),(4.9,480),(5.1,480),(5.3,460),(5.5,510),(5.8,470),(6.0,490),(6.3,470),(6.6,480),(7.1,480),(7.4,490),(6.5,840),(7.2,900),(7.5,540),(8.6,670),
(5.8,350),(5.9,360),(6.0,375),(6.1,390),(6.2,405),(6.3,420),(6.4,430),(6.9,360),(7.0,375),(8.0,400)]

pareto_x = [pareto_a_x, pareto_b_x, pareto_c_x, pareto_d_x, pareto_e_x, pareto_f_x, pareto_g_x, pareto_h_x]
pareto_y = [pareto_a_y, pareto_b_y, pareto_c_y, pareto_d_y, pareto_e_y, pareto_f_y, pareto_g_y, pareto_h_y]
candidates = [cand_a, cand_b, cand_c, cand_d, cand_e, cand_f, cand_g, cand_h]

# ---------------- layout geometry ----------------
W, H = 1072, 1587
col_px = [(136.0, 527.7), (646.5, 1055.0)]
row_px = [(31.7, 353.3), (427.3, 748.3), (821.7, 1145.0), (1218.3, 1533.3)]
label_x = [28.0, 559.0]

FONT = "Liberation Sans, Arial, Helvetica, sans-serif"
RED = "#b0271c"
GRAY = "#5a5a5a"
GRID = "#d7d7d7"
TXT = "#111111"


def px(xp):
    return xp / W


def py(yp):
    return 1 - yp / H


fig = go.Figure()
layout = dict(width=W, height=H, margin=dict(l=0, r=0, t=0, b=0, autoexpand=False),
              paper_bgcolor="white", plot_bgcolor="white",
              font=dict(family=FONT, color="#222222"),
              showlegend=False)
annotations = []
shapes = []

for i in range(8):
    r, c = divmod(i, 2)
    n = i + 1
    xa = "x" if n == 1 else f"x{n}"
    ya = "y" if n == 1 else f"y{n}"
    x0, x1 = col_px[c]
    ytop, ybot = row_px[r]
    layout["xaxis" if n == 1 else f"xaxis{n}"] = dict(
        domain=[px(x0), px(x1)], anchor=ya, range=x_ranges[i], dtick=x_dticks[i],
        tick0=0, showgrid=True, gridcolor=GRID, gridwidth=1.5, zeroline=False,
        showline=True, linecolor="#222222", linewidth=2, ticks="", automargin=False,
        tickfont=dict(size=20, color="#222222"), fixedrange=True)
    layout["yaxis" if n == 1 else f"yaxis{n}"] = dict(
        domain=[py(ybot), py(ytop)], anchor=xa, range=y_ranges[i], dtick=y_dticks[i],
        tick0=0, showgrid=True, gridcolor=GRID, gridwidth=1.5, zeroline=False,
        showline=True, linecolor="#222222", linewidth=2, ticks="", automargin=False,
        tickfont=dict(size=20, color="#222222"), fixedrange=True)

    pts = candidates[i]
    fig.add_trace(go.Scatter(
        x=[p[0] for p in pts], y=[p[1] for p in pts], mode="markers",
        marker=dict(symbol="square", size=3, color=GRAY, line=dict(width=0)),
        name=legend_names[1], xaxis=xa, yaxis=ya))
    fig.add_trace(go.Scatter(
        x=pareto_x[i], y=pareto_y[i], mode="lines+markers",
        line=dict(color=RED, width=2.6), marker=dict(size=8, color=RED),
        name=legend_names[0], xaxis=xa, yaxis=ya))

    # right / top frame in grid colour (MATLAB look)
    shapes.append(dict(type="line", xref="paper", yref="paper",
                       x0=px(x1), x1=px(x1), y0=py(ybot), y1=py(ytop),
                       line=dict(color=GRID, width=1.5), layer="below"))
    shapes.append(dict(type="line", xref="paper", yref="paper",
                       x0=px(x0), x1=px(x1), y0=py(ytop), y1=py(ytop),
                       line=dict(color=GRID, width=1.5), layer="below"))

    # title
    annotations.append(dict(text=f"<b>{titles[i]}</b>", xref="paper", yref="paper",
                            x=px((x0 + x1) / 2), y=py(ytop - 14),
                            xanchor="center", yanchor="middle", showarrow=False,
                            font=dict(size=22, color=TXT, family=FONT)))
    # panel label
    annotations.append(dict(text=f"<b>{panel_labels[i]}</b>", xref="paper", yref="paper",
                            x=px(label_x[c]), y=py(ytop + 9),
                            xanchor="center", yanchor="middle", showarrow=False,
                            font=dict(size=35, color=TXT, family=FONT)))
    if c == 0:
        annotations.append(dict(text=f"<b>{y_title}</b>",
                                xref="paper", yref="paper", textangle=-90,
                                x=px(68), y=py((ytop + ybot) / 2),
                                xanchor="center", yanchor="middle", showarrow=False,
                                font=dict(size=22.5, color=TXT, family=FONT)))
    if r == 3:
        annotations.append(dict(text=f"<b>{x_title}</b>",
                                xref="paper", yref="paper",
                                x=px((x0 + x1) / 2), y=py(1573),
                                xanchor="center", yanchor="middle", showarrow=False,
                                font=dict(size=22.5, color=TXT, family=FONT)))

# ---- hand-drawn legend box in panel a ----
lg_l, lg_r, lg_t, lg_b = 140.0, 377.0, 37.5, 77.5
shapes.append(dict(type="rect", xref="paper", yref="paper",
                   x0=px(lg_l), x1=px(lg_r), y0=py(lg_b), y1=py(lg_t),
                   fillcolor="white", line=dict(color=TXT, width=1.5), layer="above"))
row1, row2 = 47.0, 66.5
shapes.append(dict(type="line", xref="paper", yref="paper",
                   x0=px(145), x1=px(183), y0=py(row1), y1=py(row1),
                   line=dict(color=RED, width=2.6), layer="above"))
shapes.append(dict(type="circle", xref="paper", yref="paper",
                   x0=px(159.5), x1=px(167.5), y0=py(row1 + 4), y1=py(row1 - 4),
                   fillcolor=RED, line=dict(color=RED, width=0), layer="above"))
shapes.append(dict(type="rect", xref="paper", yref="paper",
                   x0=px(163.2), x1=px(165.8), y0=py(row2 + 1.3), y1=py(row2 - 1.3),
                   fillcolor=GRAY, line=dict(width=0), layer="above"))
for name, yy in zip(legend_names, (row1, row2)):
    annotations.append(dict(text=name, xref="paper", yref="paper",
                            x=px(186), y=py(yy), xanchor="left", yanchor="middle",
                            showarrow=False,
                            font=dict(size=18, color=TXT, family=FONT)))

layout["annotations"] = annotations
layout["shapes"] = shapes
fig.update_layout(**layout)
fig.write_html("out.html")
